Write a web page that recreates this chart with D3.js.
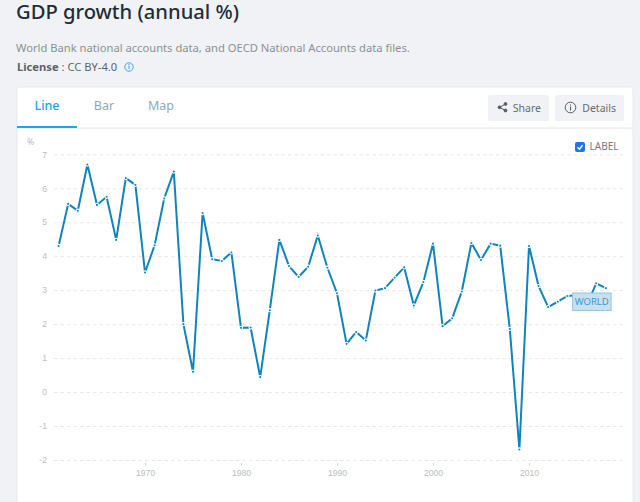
<!DOCTYPE html>
<html>
<head>
<meta charset="utf-8">
<script src="https://cdn.jsdelivr.net/npm/d3@7"></script>
<style>
  html, body { margin: 0; padding: 0; background: #f0f2f6; overflow: hidden; }
  svg { display: block; font-family: "Noto Sans", "Open Sans", sans-serif; }
  .axis path { display: none; }
  .axis text { fill: #b9bdc0; font-size: 8.6px; }
  .x .tick line { stroke: #d0d3d5; }
  .y .tick line { stroke: #e6e8ea; stroke-dasharray: 3.5 3; }
</style>
</head>
<body>
<svg id="chart" width="640" height="502"></svg>
<script>
const years = [1961, 1962, 1963, 1964, 1965, 1966, 1967, 1968, 1969, 1970,
    1971, 1972, 1973, 1974, 1975, 1976, 1977, 1978, 1979, 1980,
    1981, 1982, 1983, 1984, 1985, 1986, 1987, 1988, 1989, 1990,
    1991, 1992, 1993, 1994, 1995, 1996, 1997, 1998, 1999, 2000,
    2001, 2002, 2003, 2004, 2005, 2006, 2007, 2008, 2009, 2010,
    2011, 2012, 2013, 2014, 2015, 2016, 2017, 2018];
const growth = [4.30, 5.54, 5.34, 6.70, 5.51, 5.75, 4.48, 6.30, 6.10, 3.52,
    4.32, 5.70, 6.49, 2.00, 0.60, 5.27, 3.91, 3.86, 4.11, 1.89,
    1.90, 0.44, 2.41, 4.48, 3.71, 3.39, 3.69, 4.61, 3.66, 2.91,
    1.42, 1.77, 1.52, 2.99, 3.06, 3.37, 3.67, 2.55, 3.24, 4.37,
    1.94, 2.17, 2.96, 4.39, 3.89, 4.37, 4.31, 1.86, -1.69, 4.30,
    3.12, 2.50, 2.66, 2.83, 2.85, 2.54, 3.20, 3.06];
const yTicks = [-2, -1, 0, 1, 2, 3, 4, 5, 6, 7];
const xTicks = [1970, 1980, 1990, 2000, 2010];
const tabs = ["Line", "Bar", "Map"];
const seriesName = "WORLD";

const svg = d3.select("#chart");

// page header
svg.append("text").attr("x", 16).attr("y", 19)
    .attr("font-size", 20.2).attr("font-weight", 500).attr("fill", "#1f2d36")
    .text("GDP growth (annual %)");
svg.append("text").attr("x", 16).attr("y", 52)
    .attr("font-size", 11.2).attr("fill", "#8b9195")
    .text("World Bank national accounts data, and OECD National Accounts data files.");
const lic = svg.append("text").attr("x", 17).attr("y", 71)
    .attr("font-size", 11.2).attr("fill", "#5c6468");
lic.append("tspan").attr("font-weight", 700).text("License");
lic.append("tspan").text(" : CC BY-4.0");

const info = svg.append("g").attr("transform", "translate(129,67)");
info.append("circle").attr("r", 4.2).attr("fill", "none").attr("stroke", "#3ea6ee").attr("stroke-width", 1);
info.append("rect").attr("x", -0.5).attr("y", -1.5).attr("width", 1).attr("height", 3.5).attr("fill", "#3ea6ee");
info.append("rect").attr("x", -0.5).attr("y", -3).attr("width", 1).attr("height", 1).attr("fill", "#3ea6ee");

// card + tabs
svg.append("rect").attr("x", 17).attr("y", 87).attr("width", 616).attr("height", 430)
    .attr("rx", 2).attr("fill", "#fff").attr("stroke", "#e6e9ee");
svg.append("line").attr("x1", 17).attr("x2", 633).attr("y1", 128).attr("y2", 128).attr("stroke", "#e2e8ee");
svg.append("rect").attr("x", 17).attr("y", 126).attr("width", 60).attr("height", 2).attr("fill", "#1ea5f0");

const tabX = d3.scalePoint().domain(tabs).range([47, 161]);
svg.selectAll(".tab").data(tabs).join("text")
    .attr("class", "tab")
    .attr("x", d => tabX(d)).attr("y", 110)
    .attr("text-anchor", "middle").attr("font-size", 12.5)
    .attr("font-weight", d => d === "Line" ? 500 : 400)
    .attr("fill", d => d === "Line" ? "#1ea5f0" : "#8fa8b8")
    .text(d => d);

// share / details buttons
[[488, 61, "Share"], [555, 69, "Details"]].forEach(b => {
    svg.append("rect").attr("x", b[0]).attr("y", 95).attr("width", b[1]).attr("height", 26)
        .attr("rx", 2).attr("fill", "#f0f2f5");
    svg.append("text").attr("x", b[0] + b[1] - 8).attr("y", 111.5).attr("text-anchor", "end")
        .attr("font-size", 10.5).attr("fill", "#666d72").text(b[2]);
});
const share = svg.append("g").attr("fill", "#555c60").attr("stroke", "#555c60");
share.append("path").attr("fill", "none").attr("d", "M505.5 104L499.5 107.3L505.5 110.5");
share.append("circle").attr("cx", 505.5).attr("cy", 104).attr("r", 1.4);
share.append("circle").attr("cx", 499.5).attr("cy", 107.3).attr("r", 1.4);
share.append("circle").attr("cx", 505.5).attr("cy", 110.5).attr("r", 1.4);
const det = svg.append("g").attr("transform", "translate(570.5,107.5)");
det.append("circle").attr("r", 5.3).attr("fill", "none").attr("stroke", "#555c60").attr("stroke-width", 1);
det.append("rect").attr("x", -0.5).attr("y", -1).attr("width", 1).attr("height", 4).attr("fill", "#555c60");
det.append("rect").attr("x", -0.5).attr("y", -3).attr("width", 1).attr("height", 1.1).attr("fill", "#555c60");

// label checkbox
svg.append("rect").attr("x", 575).attr("y", 142).attr("width", 10).attr("height", 10)
    .attr("rx", 2).attr("fill", "#2273ec");
svg.append("path").attr("d", "M577.5 147.2L579.4 149.2L582.6 145.2")
    .attr("fill", "none").attr("stroke", "#fff").attr("stroke-width", 1.4);
svg.append("text").attr("x", 589.5).attr("y", 150).attr("font-size", 10).attr("fill", "#74797d").text("LABEL");

// chart
const x = d3.scaleLinear().domain([1970, 2010]).range([145, 529]);
const y = d3.scaleLinear().domain([-2, 7]).range([460, 154.3]);
const points = years.map((d, i) => [d, growth[i]]);

svg.append("text").attr("x", 27).attr("y", 145).attr("font-size", 8.6).attr("fill", "#b9bdc0").text("%");

svg.append("g").attr("class", "axis y")
    .attr("transform", "translate(54,0)")
    .call(d3.axisLeft(y).tickValues(yTicks).tickFormat(d3.format("d")).tickSize(-570).tickPadding(7))
    .call(g => g.selectAll("text").text(d => d));

svg.append("g").attr("class", "axis x")
    .attr("transform", "translate(0,463)")
    .call(d3.axisBottom(x).tickValues(xTicks).tickFormat(d3.format("d")).tickSize(2.5).tickPadding(4));

const line = d3.line().x(d => x(d[0])).y(d => y(d[1]));
svg.append("path").datum(points)
    .attr("d", line)
    .attr("fill", "none").attr("stroke", "#0f83bd").attr("stroke-width", 2)
    .attr("stroke-linejoin", "miter");

svg.selectAll(".pt").data(points).join("circle")
    .attr("class", "pt")
    .attr("cx", d => x(d[0])).attr("cy", d => y(d[1]))
    .attr("r", 1.6).attr("fill", "#0f83bd")
    .attr("stroke", "#fff").attr("stroke-width", 1.1);

// end label, sits over the 2015-2016 stretch of the line
const labelPt = points[points.length - 3];
svg.append("rect").attr("x", x(labelPt[0]) - 14).attr("y", y(labelPt[1]) - 12.8)
    .attr("width", 38.5).attr("height", 17.5)
    .attr("fill", "#c7e0f0").attr("stroke", "#93c6e6").attr("stroke-width", 1);
svg.append("text").attr("x", x(labelPt[0]) + 5.2).attr("y", y(labelPt[1]) - 0.4)
    .attr("text-anchor", "middle").attr("font-size", 9.5).attr("fill", "#3f97cf").text(seriesName);
</script>
</body>
</html>
